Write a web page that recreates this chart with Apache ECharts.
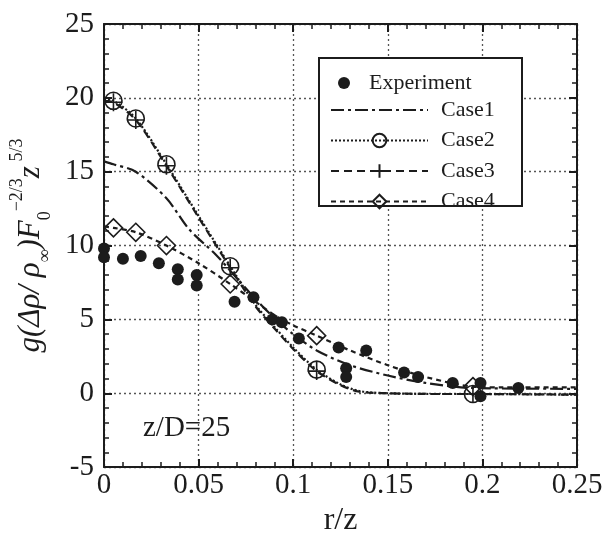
<!DOCTYPE html>
<html>
<head>
<meta charset="utf-8">
<script src="https://cdn.jsdelivr.net/npm/echarts@6/dist/echarts.min.js"></script>
<style>
  html, body { margin: 0; padding: 0; background: #fff; }
  #chart { width: 608px; height: 542px; }
</style>
</head>
<body>
<div id="chart"></div>
<script>
// r/z ticks
const xTickLabels = ['0', '0.05', '0.1', '0.15', '0.2', '0.25']
const yTickLabels = ['-5', '0', '5', '10', '15', '20', '25']

// experiment points
const expR = [0, 0, 0.01, 0.0194, 0.029, 0.039, 0.039, 0.049, 0.049, 0.069, 0.079, 0.089, 0.094, 0.103, 0.124, 0.128, 0.128, 0.1386, 0.1586, 0.166, 0.1843, 0.199, 0.199, 0.219]
const expG = [9.8, 9.2, 9.1, 9.3, 8.8, 8.4, 7.7, 8.0, 7.3, 6.2, 6.5, 5.0, 4.8, 3.7, 3.1, 1.7, 1.1, 2.9, 1.4, 1.1, 0.7, 0.7, -0.2, 0.35]

// r/z where the case markers sit
const markerR = [0.005, 0.0168, 0.033, 0.0667, 0.1124, 0.195]

const case1R = [0, 0.005, 0.0168, 0.033, 0.045, 0.059, 0.0667, 0.08, 0.09, 0.1, 0.1124, 0.13, 0.15, 0.17, 0.195, 0.25]
const case1G = [15.7, 15.5, 15.0, 13.2, 11.1, 9.4, 8.3, 6.4, 5.1, 4.0, 2.9, 1.9, 1.2, 0.7, 0.35, 0.3]

const case2R = [0, 0.005, 0.0168, 0.033, 0.05, 0.0667, 0.08, 0.09, 0.1, 0.1124, 0.125, 0.135, 0.15, 0.175, 0.195, 0.25]
const case2G = [19.9, 19.8, 18.6, 15.5, 12.0, 8.6, 6.0, 4.5, 3.1, 1.6, 0.6, 0.15, 0.0, -0.05, -0.05, -0.1]

const case3R = [0, 0.005, 0.0168, 0.033, 0.05, 0.0667, 0.08, 0.09, 0.1, 0.1124, 0.125, 0.135, 0.15, 0.175, 0.195, 0.25]
const case3G = [19.8, 19.7, 18.5, 15.4, 11.9, 8.5, 5.9, 4.4, 3.0, 1.5, 0.55, 0.1, 0.0, -0.05, -0.05, -0.1]

const case4R = [0, 0.005, 0.0168, 0.033, 0.05, 0.0667, 0.08, 0.09, 0.1, 0.1124, 0.13, 0.15, 0.17, 0.195, 0.21, 0.25]
const case4G = [11.3, 11.2, 10.9, 10.0, 8.8, 7.4, 6.2, 5.3, 4.6, 3.9, 2.9, 1.9, 1.1, 0.45, 0.4, 0.4]

const ink = '#1c1c1c'
const serif = 'Liberation Serif'

function curve (name, rs, gs, symbol, dash, size) {
  return {
    name: name,
    type: 'line',
    symbol: symbol,
    symbolSize: size,
    showAllSymbol: true,
    smooth: 0.3,
    data: rs.map((r, i) => ({
      value: [r, gs[i]],
      symbol: markerR.includes(r) ? symbol : 'none'
    })),
    lineStyle: { color: ink, width: 2.2, type: dash },
    itemStyle: { color: 'transparent', borderColor: ink, borderWidth: 1.6, borderType: 'solid' }
  }
}

const tickLine = { color: ink, width: 2 }

function xAx (pos, main) {
  return {
    type: 'value',
    position: pos,
    min: 0,
    max: 0.25,
    interval: 0.05,
    axisLine: { show: true, onZero: false, lineStyle: tickLine },
    axisTick: { show: true, inside: true, length: 8, lineStyle: tickLine },
    minorTick: { show: true, splitNumber: 5, length: 5, lineStyle: { color: ink, width: 1.5 } },
    splitLine: { show: main, lineStyle: { color: '#555', width: 1.3, type: [2, 3] } },
    axisLabel: {
      show: main,
      margin: 4,
      color: ink,
      fontFamily: serif,
      fontSize: 29,
      formatter: (v) => xTickLabels[Math.round(v / 0.05)]
    },
    name: main ? 'r/z' : '',
    nameLocation: 'middle',
    nameGap: 36,
    nameTextStyle: { color: ink, fontFamily: serif, fontSize: 32 }
  }
}

function yAx (pos, main) {
  return {
    type: 'value',
    position: pos,
    min: -5,
    max: 25,
    interval: 5,
    axisLine: { show: true, onZero: false, lineStyle: tickLine },
    axisTick: { show: true, inside: true, length: 8, lineStyle: tickLine },
    minorTick: { show: true, splitNumber: 5, length: 5, lineStyle: { color: ink, width: 1.5 } },
    splitLine: { show: main, lineStyle: { color: '#555', width: 1.3, type: [2, 3] } },
    axisLabel: {
      show: main,
      margin: 10,
      color: ink,
      fontFamily: serif,
      fontSize: 29,
      formatter: (v) => yTickLabels[Math.round((v + 5) / 5)]
    },
    name: main ? '{i|g(Δρ/ ρ}{s|∞}{i|)F}{s|0}{p|−2/3}{i|z}{p| 5/3}' : '',
    nameLocation: 'middle',
    nameRotate: 90,
    nameGap: 50,
    nameTextStyle: {
      color: ink,
      rich: {
        i: { fontFamily: serif, fontStyle: 'italic', fontSize: 31, color: ink, lineHeight: 46 },
        s: { fontFamily: serif, fontSize: 18, color: ink, verticalAlign: 'bottom', lineHeight: 46 },
        p: { fontFamily: serif, fontSize: 18, color: ink, verticalAlign: 'top', lineHeight: 46 }
      }
    }
  }
}

const myChart = echarts.init(document.getElementById('chart'), null, { renderer: 'canvas' })

const option = {
  animation: false,
  backgroundColor: '#fff',
  grid: { left: 101, right: 31, top: 24, bottom: 69 },
  xAxis: [xAx('bottom', true), xAx('top', false)],
  yAxis: [yAx('left', true), yAx('right', false)],
  legend: [
    {
      data: ['Experiment'],
      left: 338,
      top: 72,
      itemWidth: 20,
      itemHeight: 12,
      padding: 0,
      z: 5,
      textStyle: { color: ink, fontFamily: serif, fontSize: 22, padding: [0, 0, 0, 10] }
    },
    {
      data: [
        // case1 has no marker, hide the legend symbol
        { name: 'Case1', itemStyle: { borderColor: 'transparent', color: 'transparent' } },
        'Case2', 'Case3', 'Case4'
      ],
      orient: 'vertical',
      left: 330,
      top: 99,
      itemWidth: 97,
      itemHeight: 17,
      itemGap: 8.5,
      padding: 0,
      z: 5,
      textStyle: { color: ink, fontFamily: serif, fontSize: 22, lineHeight: 17, padding: [0, 0, 0, 8] }
    }
  ],
  graphic: [
    {
      type: 'rect',
      z: 3,
      shape: { x: 319, y: 58, width: 203, height: 148 },
      style: { fill: '#fff', stroke: ink, lineWidth: 2 }
    },
    {
      type: 'text',
      z: 3,
      left: 143,
      top: 414,
      style: { text: 'z/D=25', fill: ink, font: '29px "Liberation Serif"' }
    }
  ],
  series: [
    {
      name: 'Experiment',
      type: 'scatter',
      symbol: 'circle',
      symbolSize: 12,
      data: expR.map((r, i) => [r, expG[i]]),
      itemStyle: { color: ink, opacity: 1 }
    },
    curve('Case1', case1R, case1G, 'none', [13, 4, 3, 4], 0),
    curve('Case2', case2R, case2G, 'circle', [2, 2], 17),
    curve('Case3', case3R, case3G, 'path://M10 0 L10 20 M0 10 L20 10', [8, 5], 18),
    curve('Case4', case4R, case4G, 'diamond', [5, 4], 18)
  ]
}

myChart.setOption(option)
</script>
</body>
</html>
